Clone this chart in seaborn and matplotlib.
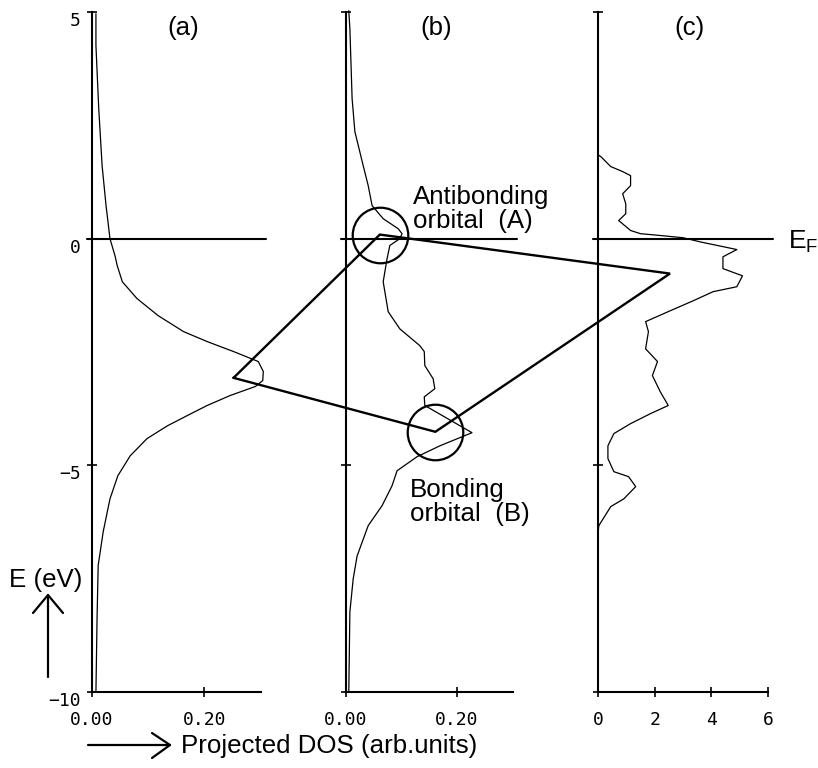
import matplotlib
matplotlib.use("Agg")
import matplotlib.pyplot as plt
import seaborn as sns
from matplotlib.lines import Line2D

# ---- data (energy in eV, projected DOS in arb. units) ----
A_E = [4.96, 4.26, 2.87, 1.61, 0.73, 0.0, -0.38, -0.60, -0.95, -1.32, -1.70,
       -2.05, -2.27, -2.49, -2.71, -2.93, -3.13, -3.26, -3.46, -3.68, -3.90,
       -4.13, -4.41, -4.79, -5.23, -5.74, -6.46, -7.21, -8.38, -10.0]
A_DOS = [0.007, 0.007, 0.012, 0.018, 0.025, 0.032, 0.041, 0.045, 0.054, 0.080,
         0.118, 0.163, 0.205, 0.252, 0.296, 0.305, 0.304, 0.291, 0.246, 0.205,
         0.170, 0.134, 0.098, 0.068, 0.046, 0.032, 0.020, 0.011, 0.009, 0.007]

B_E = [5.03, 4.63, 3.09, 2.36, 1.61, 1.17, 0.73, 0.44, 0.22, 0.11, 0.0, -0.15,
       -0.44, -0.95, -1.61, -1.99, -2.36, -2.49, -2.80, -3.09, -3.31, -3.49,
       -3.68, -4.28, -4.57, -4.81, -5.12, -5.45, -5.89, -6.33, -7.00, -7.50,
       -8.23, -10.0]
B_DOS = [0.005, 0.007, 0.011, 0.016, 0.031, 0.040, 0.047, 0.067, 0.094, 0.101,
         0.097, 0.079, 0.074, 0.067, 0.076, 0.097, 0.133, 0.141, 0.142, 0.157,
         0.160, 0.141, 0.142, 0.227, 0.169, 0.128, 0.092, 0.083, 0.065, 0.040,
         0.020, 0.013, 0.007, 0.005]

C_E = [5.0, 1.85, 1.81, 1.59, 1.48, 1.39, 1.17, 0.99, 0.77, 0.55, 0.40, 0.18,
       0.11, 0.07, 0.02, -0.07, -0.24, -0.40, -0.66, -0.82, -1.06, -1.17, -1.37,
       -1.59, -1.83, -2.05, -2.43, -2.71, -3.02, -3.38, -3.68, -3.86, -4.08,
       -4.30, -4.57, -4.85, -5.14, -5.25, -5.47, -5.74, -5.91, -6.33, -6.5, -10.0]
C_DOS = [0.0, 0.0, 0.10, 0.45, 0.87, 1.15, 1.15, 0.87, 0.98, 0.98, 0.73, 1.15,
         1.50, 2.20, 3.01, 3.60, 4.90, 4.41, 4.41, 5.10, 4.90, 4.06, 3.36, 2.55,
         1.68, 1.78, 1.68, 2.10, 1.92, 2.20, 2.48, 1.85, 1.15, 0.56, 0.35, 0.35,
         0.56, 1.08, 1.33, 0.91, 0.45, 0.03, 0.0, 0.0]

# hybridisation diagram: (a) level -> antibonding (b) -> (c) -> bonding (b)
LINK_PANEL = ["a", "b", "c", "b"]
LINK_DOS = [0.252, 0.061, 2.54, 0.161]
LINK_E = [-3.07, 0.09, -0.77, -4.26]

# orbitals circled in panel (b)
ORB_DOS = [0.061, 0.161]
ORB_E = [0.09, -4.26]

Y_TICKS = [5, 0, -5, -10]
Y_LABELS = ["5", "0", "\u22125", "\u221210"]
AB_TICKS = [0.0, 0.2]
AB_LABELS = ["0.00", "0.20"]
C_TICKS = [0, 2, 4, 6]
C_LABELS = ["0", "2", "4", "6"]

# ---- style ----
sns.set_theme(style="white")
plt.rcParams["font.family"] = ["Liberation Sans", "DejaVu Sans"]
plt.rcParams["mathtext.fontset"] = "custom"
plt.rcParams["mathtext.rm"] = "Liberation Sans"
plt.rcParams["mathtext.it"] = "Liberation Sans"
plt.rcParams["ytick.alignment"] = "top"   # labels hang below their ticks

W, H = 818, 768
fig = plt.figure(figsize=(W / 100, H / 100), dpi=100)


def px(x, y):
    return x / W, 1 - y / H


MONO = "DejaVu Sans Mono"
FS = 18.6

panels = {
    "a": dict(left=92, width=168.5, dos=A_DOS, e=A_E, xlim=(0, 0.30),
              ticks=AB_TICKS, labels=AB_LABELS, title="(a)"),
    "b": dict(left=346, width=166.5, dos=B_DOS, e=B_E, xlim=(0, 0.30),
              ticks=AB_TICKS, labels=AB_LABELS, title="(b)"),
    "c": dict(left=598, width=170, dos=C_DOS, e=C_E, xlim=(0, 6),
              ticks=C_TICKS, labels=C_LABELS, title="(c)"),
}

axes = {}
for key, p in panels.items():
    x0, y0 = px(p["left"], 692)
    ax = fig.add_axes([x0, y0, p["width"] / W, 680 / H])
    ax.set_facecolor("none")
    sns.lineplot(x=p["dos"], y=p["e"], orient="y", sort=False, estimator=None,
                 color="black", linewidth=0.9, ax=ax, clip_on=False)
    ax.set_xlim(*p["xlim"])
    ax.set_ylim(-10, 5)
    for s in ["top", "right"]:
        ax.spines[s].set_visible(False)
    for s in ["left", "bottom"]:
        ax.spines[s].set_color("black")
        ax.spines[s].set_linewidth(1.5)
    ax.set_xticks(p["ticks"], p["labels"], fontfamily=MONO, fontsize=13)
    if key == "a":
        ax.set_yticks(Y_TICKS, Y_LABELS, fontfamily=MONO, fontsize=13)
    else:
        ax.set_yticks(Y_TICKS, [])
    ax.tick_params(axis="both", which="major", bottom=True, left=True,
                   direction="inout", length=7.5, width=1.2, color="black",
                   labelcolor="black")
    ax.tick_params(axis="x", pad=10)
    ax.tick_params(axis="y", pad=4.5)
    ax.set_xlabel("")
    ax.set_ylabel("")
    # Fermi level
    ax.axhline(0, xmin=-0.03, xmax=1.03, color="black", lw=1.5, clip_on=False)
    ax.text(0.54, 0.976, p["title"], transform=ax.transAxes, ha="center",
            va="center", fontsize=FS, color="black")
    axes[key] = ax

# circles around the orbitals
axes["b"].plot(ORB_DOS, ORB_E, ls="none", marker="o", ms=40, mfc="none",
               mec="black", mew=1.6, clip_on=False, zorder=5)

# connecting quadrilateral across panels
inv = fig.transFigure.inverted()
pts = [inv.transform(axes[k].transData.transform((d, e)))
       for k, d, e in zip(LINK_PANEL, LINK_DOS, LINK_E)]
pts.append(pts[0])
fig.add_artist(Line2D([q[0] for q in pts], [q[1] for q in pts],
                      transform=fig.transFigure, color="black", lw=1.7,
                      solid_joinstyle="miter", zorder=6))

# annotations
axes["b"].text(0.121, 1.19, "Antibonding\norbital  (A)", ha="left", va="top",
               fontsize=FS, linespacing=1.0, color="black")
axes["b"].text(0.115, -5.27, "Bonding\norbital  (B)", ha="left", va="top",
               fontsize=FS, linespacing=1.0, color="black")
axes["c"].text(6.7, -0.22, r"E$_\mathrm{F}$", ha="left", va="baseline",
               fontsize=19, color="black", clip_on=False)

fig.text(*px(46, 580), "E (eV)", ha="center", va="center", fontsize=FS,
         color="black")
fig.text(*px(181, 753), "Projected DOS (arb.units)", ha="left",
         va="baseline", fontsize=FS, color="black")

# hand-drawn style arrows
for seg in [[(48, 677), (48, 595)], [(33, 613), (48, 595), (63, 613)],
            [(88, 745), (170, 745)], [(152, 733), (170, 745), (152, 758)]]:
    xy = [px(*s) for s in seg]
    fig.add_artist(Line2D([q[0] for q in xy], [q[1] for q in xy],
                          transform=fig.transFigure, color="black", lw=1.6))

fig.savefig("out.png", dpi=100, facecolor="white")
